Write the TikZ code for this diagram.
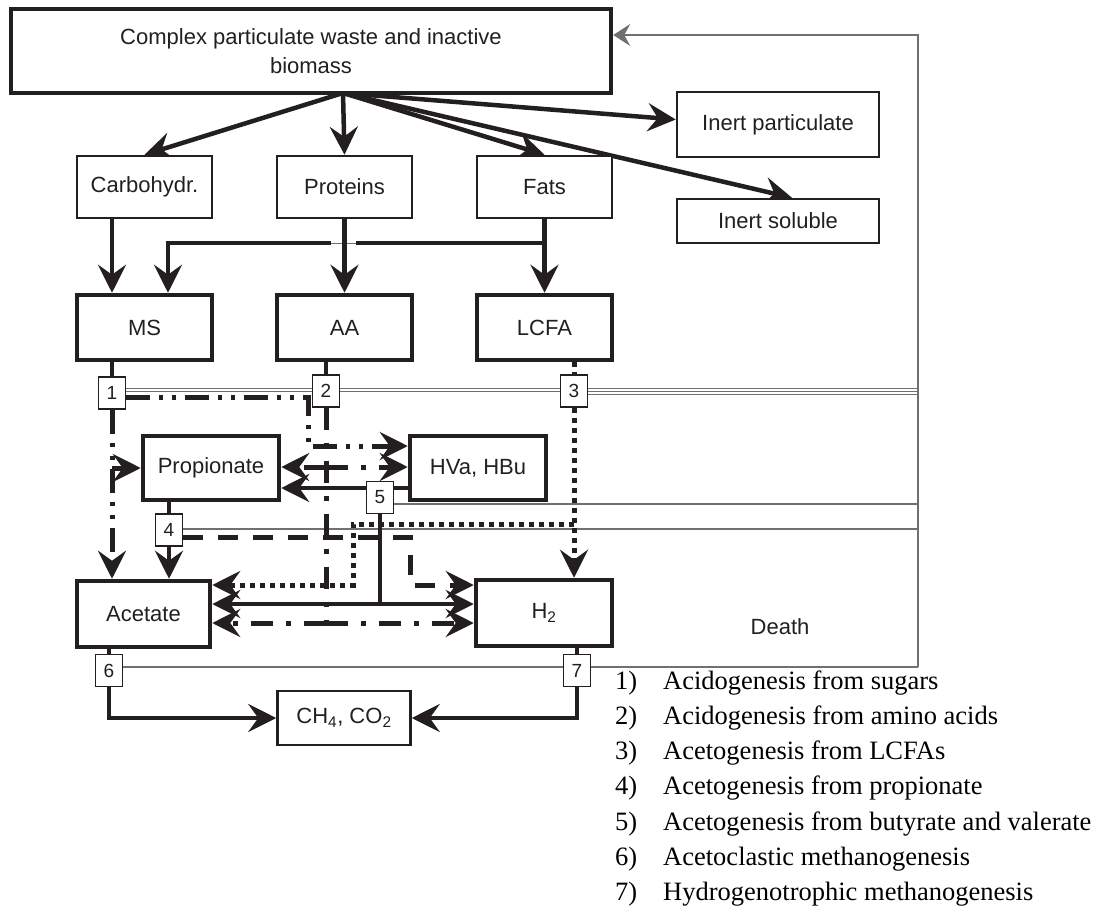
\documentclass[tikz,border=0pt]{standalone}
\usepackage{fontspec}
\setmainfont{Liberation Serif}
\newfontfamily\arialf{Liberation Sans}
\usetikzlibrary{arrows.meta,calc,backgrounds}
\definecolor{ink}{HTML}{231F20}
\definecolor{deathgray}{HTML}{707070}
\tikzset{
  bigtip/.tip={Stealth[length=28pt,width=28pt,inset=10pt]},
  smalltip/.tip={Stealth[length=17pt,width=22pt,inset=6pt]},
  boxbase/.style={draw=ink, fill=white, inner sep=0pt, text=ink, align=center,
    font=\arialf\fontsize{22}{29}\selectfont},
  thinbox/.style={boxbase, line width=2.5pt},
  thickbox/.style={boxbase, line width=4.5pt},
  numbox/.style={draw=ink, fill=white, line width=1.3pt, minimum width=27pt,
    minimum height=32pt, inner sep=0pt, text=ink, font=\arialf\fontsize{19}{22}\selectfont},
  flowline/.style={draw=ink, line width=4.5pt},
  pone/.style={draw=ink, line width=5pt, dash pattern=on 24pt off 9pt on 4pt off 9pt on 4pt off 9pt},
  ptwo/.style={draw=ink, line width=5pt, dash pattern=on 22pt off 13pt on 5pt off 13pt},
  pthree/.style={draw=ink, line width=5pt, dash pattern=on 5pt off 5pt},
  pfour/.style={draw=ink, line width=5pt, dash pattern=on 20pt off 15pt},
  pfive/.style={draw=ink, line width=4.5pt},
  deathline/.style={draw=deathgray, line width=1.4pt},
  legnum/.style={anchor=base west, inner sep=0pt, font=\fontsize{26.5}{30}\selectfont},
  legtxt/.style={anchor=base west, inner sep=0pt, font=\fontsize{26.5}{30}\selectfont},
}
\begin{document}
\begin{tikzpicture}[x=1pt,y=-1pt]
\useasboundingbox (0,0) rectangle (1099,907);

% ---------- nodes ----------
\node[thickbox, minimum width=600pt, minimum height=84pt] (top) at (311,51)
  {Complex particulate waste and inactive\\biomass};
\node[thinbox, minimum width=202pt, minimum height=65pt] (inertp) at (778,124.5) {Inert particulate};
\node[thinbox, minimum width=202pt, minimum height=44pt] (inerts) at (778,221) {Inert soluble};

\node[thinbox, minimum width=135pt, minimum height=62pt] (carb) at (144.5,187) {Carbohydr.};
\node[thinbox, minimum width=135pt, minimum height=62pt] (prot) at (344.5,187) {Proteins};
\node[thinbox, minimum width=135pt, minimum height=62pt] (fats) at (544.5,187) {Fats};

\node[thickbox, minimum width=135pt, minimum height=65pt] (ms) at (144.5,327.5) {MS};
\node[thickbox, minimum width=135pt, minimum height=65pt] (aa) at (344.5,327.5) {AA};
\node[thickbox, minimum width=135pt, minimum height=65pt] (lcfa) at (544.5,327.5) {LCFA};

\node[thickbox, minimum width=136pt, minimum height=64pt] (prop) at (211,468) {Propionate};
\node[thickbox, minimum width=136pt, minimum height=64pt] (hva) at (478,468) {HVa, HBu};
\node[thickbox, minimum width=133pt, minimum height=66pt] (acet) at (143.5,614) {Acetate};
\node[thickbox, minimum width=136pt, minimum height=66pt] (h2) at (544,613) {H\textsubscript{2}};
\node[thinbox, minimum width=133pt, minimum height=54pt] (ch4) at (344,718) {CH\textsubscript{4}, CO\textsubscript{2}};

\node[numbox] (n1) at (112,393) {1};
\node[numbox] (n2) at (326,391) {2};
\node[numbox] (n3) at (574,391) {3};
\node[numbox] (n4) at (169,530) {4};
\node[numbox] (n5) at (380,497.5) {5};
\node[numbox] (n6) at (109,670.5) {6};
\node[numbox] (n7) at (577,670.5) {7};

\node[boxbase, draw=none, fill=none] (death) at (780,627) {Death};

\node[legnum] (l1n) at (615,689) {1)}; \node[legtxt] (l1t) at (663,689) {Acidogenesis from sugars};
\node[legnum] (l2n) at (615,724) {2)}; \node[legtxt] (l2t) at (663,724) {Acidogenesis from amino acids};
\node[legnum] (l3n) at (615,759) {3)}; \node[legtxt] (l3t) at (663,759) {Acetogenesis from LCFAs};
\node[legnum] (l4n) at (615,794.5) {4)}; \node[legtxt] (l4t) at (663,794.5) {Acetogenesis from propionate};
\node[legnum] (l5n) at (615,830) {5)}; \node[legtxt] (l5t) at (663,830) {Acetogenesis from butyrate and valerate};
\node[legnum] (l6n) at (615,865) {6)}; \node[legtxt] (l6t) at (663,865) {Acetoclastic methanogenesis};
\node[legnum] (l7n) at (615,900) {7)}; \node[legtxt] (l7t) at (663,900) {Hydrogenotrophic methanogenesis};

% ---------- helper coordinates ----------
\coordinate (apex) at (343,93);
\coordinate (cTop) at (918,35);
\coordinate (cBot) at (918,667);
\coordinate (yb) at (0,243);
\coordinate (jm) at (168,243);
\coordinate (gL) at (331,243);
\coordinate (gR) at (356,243);
\coordinate (k1) at (308,446);
\coordinate (k2a) at (326,467);
\coordinate (k2b) at (326,623);
\coordinate (y3h) at (0,524);
\coordinate (k3b) at (353,585);
\coordinate (k4) at (410,585);
\coordinate (y5) at (0,488);
\coordinate (k5) at (380,604);
\coordinate (d1) at (0,388.5);
\coordinate (d2) at (0,391.5);
\coordinate (d3) at (0,394.5);
\coordinate (d4) at (0,529);
\coordinate (d5) at (0,504);

% ---------- connectors ----------
\begin{pgfonlayer}{background}
% death / recycle lines
\draw[deathline] (n1.east |- d1) -- (cTop |- d1);
\draw[deathline] (n1.east |- d2) -- (cTop |- d2);
\draw[deathline] (n3.east |- d3) -- (cTop |- d3);
\draw[deathline] (n5.east |- d5) -- (cTop |- d5);
\draw[deathline] (n4.east |- d4) -- (cTop |- d4);
\draw[deathline] (n6.east |- cBot) -- (cBot);
\draw[deathline, -smalltip] (cBot) -- (cTop) -- (top.east |- cTop);

% disintegration
\draw[flowline, -bigtip] (apex) -- (carb.north);
\draw[flowline, -bigtip] (apex) -- (prot.north);
\draw[flowline, -bigtip] (apex) -- (fats.north);
\draw[flowline, -bigtip] (apex) -- ($(inertp.west)+(0,-5)$);
\draw[flowline, -bigtip] (apex) -- ($(inerts.north)+(14,0)$);

% hydrolysis
\draw[flowline, -bigtip] (n1 |- carb.south) -- (n1 |- ms.north);
\draw[flowline, -bigtip] (fats.south) -- (lcfa.north);
\draw[flowline] (fats.south |- yb) -- (gR);
\draw[flowline, -bigtip] (gL) -| (jm |- ms.north);
\draw[deathline, line width=1pt] (gL) -- (gR);
\draw[flowline, -bigtip] (prot.south) -- (aa.north);

% uptake into process boxes
\draw[flowline] (n1.north |- ms.south) -- (n1.north);
\draw[flowline] (n2.north |- aa.south) -- (n2.north);
\draw[pthree] (n3.north |- lcfa.south) -- (n3.north);
\draw[flowline] (n4.north |- prop.south) -- (n4.north);
\draw[flowline] (n6.north |- acet.south) -- (n6.north);
\draw[flowline] (n7.north |- h2.south) -- (n7.north);

% process 1
\draw[pone, -bigtip] (n1.south) -- (n1.south |- acet.north);
\draw[pone, -bigtip] (n1.south |- prop.west) -- (prop.west);
\draw[pone, -bigtip] ($(n1.east)+(0,4)$) -| (k1) -- (k1 -| hva.west);

% process 2
\draw[ptwo] (n2.south) -- (k2b);
\draw[ptwo, -bigtip] (k2a) -- (k2a -| prop.east);
\draw[ptwo, -bigtip] (k2a) -- (k2a -| hva.west);
\draw[ptwo, -bigtip] (k2b) -- (k2b -| acet.east);
\draw[ptwo, -bigtip] (k2b) -- (k2b -| h2.west);

% process 3
\draw[pthree, -bigtip] (n3.south) -- (n3.south |- h2.north);
\draw[pthree, -bigtip] (n3.south |- y3h) -| (k3b) -- (k3b -| acet.east);

% process 4
\draw[flowline, -bigtip] (n4.south) -- (n4.south |- acet.north);
\draw[pfour, -bigtip] ($(n4.east)+(0,7)$) -| (k4) -- (k4 -| h2.west);

% process 5
\draw[pfive, -bigtip] (hva.west |- y5) -- (prop.east |- y5);
\draw[pfive] (n5.south) -- (k5);
\draw[pfive, -bigtip] (k5) -- (k5 -| acet.east);
\draw[pfive, -bigtip] (k5) -- (k5 -| h2.west);

% methanogenesis
\draw[flowline, -bigtip] (n6.south) |- (ch4.west);
\draw[flowline, -bigtip] (n7.south) |- (ch4.east);
\end{pgfonlayer}
\end{tikzpicture}
\end{document}
